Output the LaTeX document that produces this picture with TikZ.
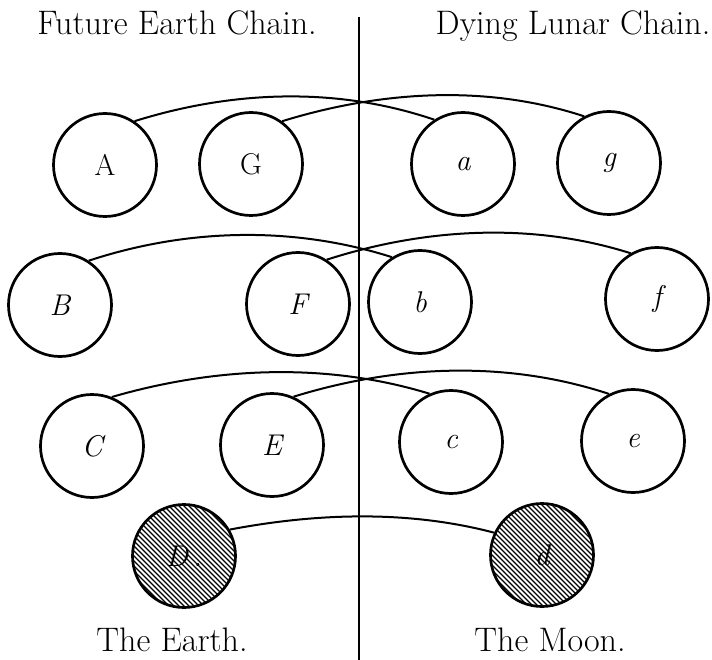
\documentclass[tikz,border=0pt]{standalone}
\usepackage{fontspec}
\begin{document}
\begin{tikzpicture}[x=1pt,y=-1pt,
  planet/.style={circle,draw,line width=2.7pt,minimum size=103pt,inner sep=0pt,
    font=\fontsize{30}{32}\selectfont\itshape},
  upright/.style={font=\fontsize{30}{32}\selectfont\upshape},
  link/.style={line width=2pt},
  divider/.style={line width=2pt},
  hatched/.style={path picture={
    \foreach \k in {-160,-155,...,160}{
      \draw[line width=1.2pt] ([shift={(\k-90,-90)}]path picture bounding box.center) -- ++(180,180);}}},
  title/.style={font=\fontsize{34}{36}\selectfont,anchor=base,inner sep=0pt}]
\useasboundingbox (0,0) rectangle (712,660);

% divider
\coordinate (top) at (359,17);
\coordinate (bot) at (359,660);
\draw[divider] (top) -- (bot);

% titles
\node[title] (t1) at (177,35) {Future Earth Chain.};
\node[title] (t2) at (573,35) {Dying Lunar Chain.};
\node[title] (t3) at (172,651) {The Earth.};
\node[title] (t4) at (550,651) {The Moon.};

% row 1
\node[planet,upright] (A) at (105,165) {A};
\node[planet,upright] (G) at (251,164) {G};
\node[planet] (a) at (463,164) {a};
\node[planet] (g) at (609,163) {g};
% row 2
\node[planet] (B) at (60,305) {B};
\node[planet] (F) at (298,304) {F};
\node[planet] (b) at (420,302) {b};
\node[planet] (f) at (657,299) {f};
% row 3
\node[planet] (C) at (92,446) {C};
\node[planet] (E) at (272,445) {E};
\node[planet] (c) at (451,442) {c};
\node[planet] (e) at (633,441) {e};
% row 4
\node[planet,hatched] (D) at (184,556) {D\,.};
\node[planet,hatched] (d) at (542,555) {d};

% arcs
\draw[link] (A.56) .. controls (231,91) and (335,86) .. (a.123);
\draw[link] (G.54) .. controls (380,91) and (486,84) .. (g.118);
\draw[link] (B.57) .. controls (188,228) and (294,226) .. (b.122);
\draw[link] (F.57) .. controls (425,228) and (532,222) .. (f.120);
\draw[link] (C.68) .. controls (215,367) and (326,362) .. (c.114);
\draw[link] (E.66) .. controls (396,365) and (506,360) .. (e.117);
\draw[link] (D.30) .. controls (317,513) and (408,510) .. (d.155);
\end{tikzpicture}
\end{document}
